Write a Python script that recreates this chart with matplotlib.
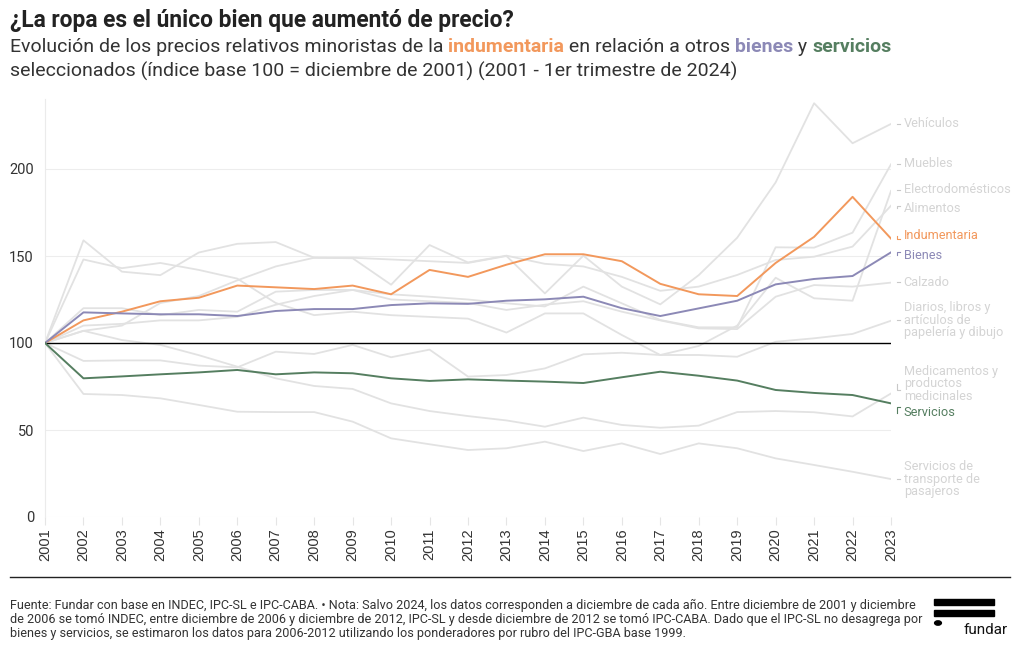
import matplotlib
matplotlib.use("Agg")
import matplotlib.pyplot as plt
from matplotlib.lines import Line2D

# ---------------- data ----------------
years = list(range(2001, 2024))

indumentaria = [100, 113, 118, 124, 126, 133, 132, 131, 133, 128, 142, 138, 145, 151, 151, 147, 134, 128, 127, 146, 161, 184, 160]
bienes = [100, 117.6, 117, 116.5, 116.5, 115.5, 118.4, 119.5, 119.5, 121.8, 122.8, 122.5, 124.3, 125.1, 126.6, 120, 115.5, 119.9, 124.3, 133.7, 136.8, 138.5, 152.1]
servicios = [100, 79.7, 80.8, 82, 83.1, 84.5, 82, 83.1, 82.6, 79.7, 78.2, 79.1, 78.4, 77.8, 77, 80.3, 83.5, 81.2, 78.4, 73, 71.3, 70.1, 65.3]

vehiculos = [100, 159, 141, 139, 152, 157, 158, 149, 149, 148, 147, 146, 150, 128.5, 150.2, 132.4, 122.2, 139, 160.5, 192.3, 237.8, 214.8, 225.9]
muebles = [100, 110, 111, 113, 113, 115, 122, 127, 130.5, 128, 126.6, 125, 122.8, 121, 132.4, 122.8, 113.2, 109, 109, 155, 154.8, 163.4, 202.7]
electro = [100, 148, 143, 146, 142, 137, 123, 116, 118, 116, 115, 114, 106, 117, 117, 104.6, 93.1, 98.3, 110, 137.5, 125.7, 124.3, 187.4]
alimentos = [100, 107, 110, 123, 127, 136, 144, 149, 148.7, 133.5, 156.3, 146.3, 150.2, 145.5, 144, 138, 130, 132.4, 139.1, 147.7, 149.6, 155.4, 178.9]
calzado = [100, 120, 120, 116, 119, 118, 129.5, 130.5, 130.5, 125, 124, 123, 119, 122, 124, 118, 113, 108.4, 108, 126.6, 133.3, 132.4, 134.7]
diarios = [100, 89.7, 90, 90, 87, 86, 95, 93.7, 98.9, 91.8, 96.2, 80.7, 81.6, 85.4, 93.5, 94.4, 93.1, 93.1, 92.1, 100.7, 102.7, 105.2, 112.8]
medicamentos = [100, 107, 101.7, 98.9, 93, 86.4, 79.7, 75.3, 73.6, 65.3, 60.9, 58, 55.5, 51.9, 57.1, 52.9, 51.3, 52.5, 60.3, 60.9, 60.2, 57.8, 71]
transporte = [100, 70.7, 70.1, 68.2, 64.4, 60.5, 60.3, 60.3, 54.8, 45.2, 41.8, 38.5, 39.5, 43.3, 37.9, 42.3, 36.2, 42.3, 39.5, 33.7, 29.9, 26, 21.8]

grey_series = [
    ("Vehículos", vehiculos),
    ("Muebles", muebles),
    ("Electrodomésticos", electro),
    ("Alimentos", alimentos),
    ("Calzado", calzado),
    ("Diarios, libros y\nartículos de\npapelería y dibujo", diarios),
    ("Medicamentos y\nproductos\nmedicinales", medicamentos),
    ("Servicios de\ntransporte de\npasajeros", transporte),
]
highlight_series = [
    ("Indumentaria", indumentaria),
    ("Bienes", bienes),
    ("Servicios", servicios),
]
y_ticks = [0, 50, 100, 150, 200]

# ---------------- style ----------------
C_ORANGE = "#F2985C"
C_PURPLE = "#8C89B6"
C_GREEN = "#557E60"
C_GREY = "#E2E2E2"
C_GREY_TXT = "#D4D4D4"
C_TEXT = "#333333"
highlight_colors = {"Indumentaria": C_ORANGE, "Bienes": C_PURPLE, "Servicios": C_GREEN}

# label vertical positions (data units) on the right
label_pos = {
    "Vehículos": 226, "Muebles": 203, "Electrodomésticos": 188, "Alimentos": 177.5,
    "Indumentaria": 161.5, "Bienes": 150.5, "Calzado": 135,
    "Diarios, libros y\nartículos de\npapelería y dibujo": 113,
    "Medicamentos y\nproductos\nmedicinales": 76.5, "Servicios": 60,
    "Servicios de\ntransporte de\npasajeros": 21.8,
}

plt.rcParams['font.family'] = ['Roboto', 'DejaVu Sans']

W, H = 1020, 650
fig = plt.figure(figsize=(W / 100, H / 100), dpi=100)

ax_left, ax_right = 45 / W, 891 / W
ax_bottom, ax_top = 1 - 517 / H, 1 - 99.4 / H
ax = fig.add_axes([ax_left, ax_bottom, ax_right - ax_left, ax_top - ax_bottom])
ax.set_xlim(2001, 2023)
ax.set_ylim(0, 240)

for s in ["top", "right", "bottom"]:
    ax.spines[s].set_visible(False)
ax.spines["left"].set_color("#EBEBEB")
ax.spines["left"].set_linewidth(0.8)

ax.set_yticks(y_ticks)
ax.set_yticklabels([str(v) for v in y_ticks], fontsize=10.5, color=C_TEXT)
ax.tick_params(axis="y", length=0, pad=8)
ax.set_xticks(years)
ax.set_xticklabels([str(y) for y in years], rotation=90, fontsize=10.5, color=C_TEXT,
                   family=['Liberation Sans', 'DejaVu Sans'])
ax.tick_params(axis="x", length=6, color="#E5E5E5", width=0.8, pad=2)
for v in y_ticks:
    if v != 100:
        ax.axhline(v, color="#EDEDED", lw=0.8, zorder=0)

for name, vals in grey_series:
    ax.plot(years, vals, color=C_GREY, lw=1.3, zorder=1)
ax.axhline(100, color="black", lw=1.0, zorder=2)
for name, vals in highlight_series:
    ax.plot(years, vals, color=highlight_colors[name], lw=1.4, zorder=3)

# right-side labels with tiny connectors
fig.canvas.draw()
trans = ax.transData
for name, vals in grey_series + highlight_series:
    col = highlight_colors.get(name, C_GREY_TXT)
    ly = label_pos[name]
    end = vals[-1]
    p_end = trans.transform((2023, end))
    p_lab = trans.transform((2023, ly))
    dy = max(-6, min(6, p_end[1] - p_lab[1]))
    xa, xb = p_end[0] + 6, p_end[0] + 9
    if abs(dy) < 1.5:
        xs, ys = [xa, xb], [p_lab[1], p_lab[1]]
    else:
        xs, ys = [xb, xa, xa], [p_lab[1] + dy, p_lab[1] + dy, p_lab[1]]
    fig.add_artist(Line2D([x / W for x in xs], [y / H for y in ys], transform=fig.transFigure,
                          color=col if name in highlight_colors else "#C8C8C8", lw=0.8))
    ax.text(2023.33, ly, name, fontsize=9.2, color=col, va="center", ha="left",
            clip_on=False, linespacing=0.95)

renderer = fig.canvas.get_renderer()


def fit_size(parts, base, target):
    tot = 0
    for txt, col, wt in parts:
        t = fig.text(0, 0, txt, fontsize=base, fontweight=wt)
        tot += t.get_window_extent(renderer=renderer).width
        t.remove()
    return base * target / tot


def rich_line(x_px, y_px, parts, size):
    x = x_px
    for txt, col, wt in parts:
        t = fig.text(x / W, 1 - y_px / H, txt, fontsize=size, color=col, fontweight=wt,
                     va="center", ha="left")
        x += t.get_window_extent(renderer=renderer).width


# ---------------- titles ----------------
title_parts = [("¿La ropa es el único bien que aumentó de precio?", "#222222", "bold")]
rich_line(10, 20, title_parts, fit_size(title_parts, 14, 505))

sub1 = [
    ("Evolución de los precios relativos minoristas de la ", C_TEXT, "normal"),
    ("indumentaria", C_ORANGE, "bold"),
    (" en relación a otros ", C_TEXT, "normal"),
    ("bienes", C_PURPLE, "bold"),
    (" y ", C_TEXT, "normal"),
    ("servicios", C_GREEN, "bold"),
]
sub2 = [("seleccionados (índice base 100 = diciembre de 2001) (2001 - 1er trimestre de 2024)", C_TEXT, "normal")]
s1 = fit_size(sub1, 13, 887)
s2 = fit_size(sub2, 13, 717)
sub_size = (s1 + s2) / 2
rich_line(10, 47, sub1, sub_size)
rich_line(10, 71, sub2, sub_size)

# ---------------- footer ----------------
fig.add_artist(Line2D([10 / W, 1010 / W], [1 - 577 / H, 1 - 577 / H], transform=fig.transFigure,
                      color="#222222", lw=1.0))
footer_lines = [
    "Fuente: Fundar con base en INDEC, IPC-SL e IPC-CABA. • Nota: Salvo 2024, los datos corresponden a diciembre de cada año. Entre diciembre de 2001 y diciembre",
    "de 2006 se tomó INDEC, entre diciembre de 2006 y diciembre de 2012, IPC-SL y desde diciembre de 2012 se tomó IPC-CABA. Dado que el IPC-SL no desagrega por",
    "bienes y servicios, se estimaron los datos para 2006-2012 utilizando los ponderadores por rubro del IPC-GBA base 1999.",
]
fsize = fit_size([(footer_lines[1], C_TEXT, "normal")], 8.3, 905)
for i, ln in enumerate(footer_lines):
    fig.text(10 / W, 1 - (605 + 14 * i) / H, ln, fontsize=fsize, color=C_TEXT, va="center", ha="left")

# fundar logo
for ytop in (599, 610):
    fig.add_artist(plt.Rectangle((934 / W, 1 - (ytop + 6) / H), 60 / W, 6 / H,
                                 transform=fig.transFigure, color="black"))
fig.add_artist(plt.Circle((938 / W, 1 - 623 / H), 3.4 / W, transform=fig.transFigure, color="black"))
fig.text(1008 / W, 1 - 630 / H, "fundar", fontsize=11, color="#111111", ha="right", va="center")

fig.savefig("out.png", dpi=100)
